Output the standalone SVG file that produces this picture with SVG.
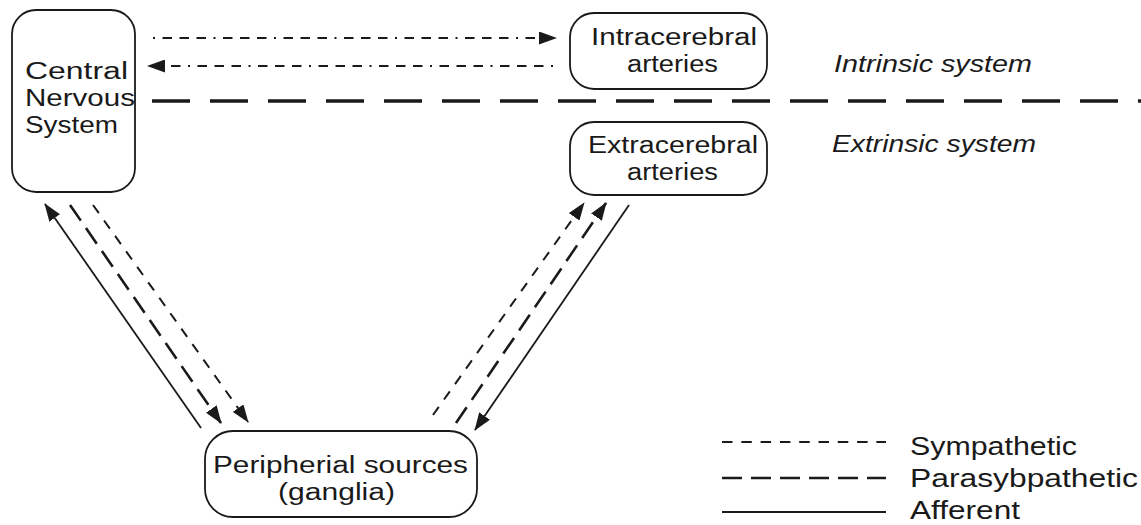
<svg xmlns="http://www.w3.org/2000/svg" width="1141" height="525" viewBox="0 0 1141 525">
<defs>
<style>
.box{fill:none;stroke:#1a1a1a;stroke-width:1.8}
.lbl{font-family:"Liberation Sans",Arial,sans-serif;font-size:23px;fill:#1a1a1a}
.leg{font-family:"Liberation Sans",Arial,sans-serif;font-size:25px;fill:#1a1a1a}
.it{font-family:"Liberation Sans",Arial,sans-serif;font-size:23px;font-style:italic;fill:#1a1a1a}
.dd{fill:none;stroke:#1a1a1a;stroke-width:2.2;stroke-dasharray:2 7.5 9.5 7.5 9.5 7.5 9.5 7.5}
.sym{fill:none;stroke:#1a1a1a;stroke-width:2;stroke-dasharray:10 9}
.par{fill:none;stroke:#1a1a1a;stroke-width:2.6;stroke-dasharray:19 9}
.aff{fill:none;stroke:#1a1a1a;stroke-width:1.8}
.div{fill:none;stroke:#1a1a1a;stroke-width:3.4;stroke-dasharray:38 20}
</style>
<marker id="ah" viewBox="0 0 18 13" refX="17" refY="6.5" markerWidth="18" markerHeight="13" markerUnits="userSpaceOnUse" orient="auto">
<path d="M0,0 L18,6.5 L0,13 z" fill="#1a1a1a"/>
</marker>
</defs>
<rect width="1141" height="525" fill="#ffffff"/>

<g id="divider">
<line class="div" x1="152" y1="101" x2="1141" y2="101"/>
</g>

<g id="cns">
<rect class="box" x="12" y="10" width="123" height="182" rx="24"/>
<text class="lbl" x="25" y="79" textLength="103" lengthAdjust="spacingAndGlyphs">Central</text>
<text class="lbl" x="25" y="106" textLength="110" lengthAdjust="spacingAndGlyphs">Nervous</text>
<text class="lbl" x="25" y="133" textLength="93" lengthAdjust="spacingAndGlyphs">System</text>
</g>

<g id="intracerebral">
<rect class="box" x="570" y="13" width="197" height="76" rx="24"/>
<text class="lbl" x="591" y="45" textLength="166" lengthAdjust="spacingAndGlyphs">Intracerebral</text>
<text class="lbl" x="627" y="72" textLength="91" lengthAdjust="spacingAndGlyphs">arteries</text>
</g>

<g id="extracerebral">
<rect class="box" x="570" y="122" width="197" height="73" rx="24"/>
<text class="lbl" x="588" y="153" textLength="170" lengthAdjust="spacingAndGlyphs">Extracerebral</text>
<text class="lbl" x="627" y="180" textLength="91" lengthAdjust="spacingAndGlyphs">arteries</text>
</g>

<g id="peripheral">
<rect class="box" x="205" y="431" width="272" height="86" rx="28"/>
<text class="lbl" x="213" y="473" textLength="255" lengthAdjust="spacingAndGlyphs">Peripherial sources</text>
<text class="lbl" x="278" y="500" textLength="117" lengthAdjust="spacingAndGlyphs">(ganglia)</text>
</g>

<g id="system-labels">
<text class="it" x="834" y="72" textLength="198" lengthAdjust="spacingAndGlyphs">Intrinsic system</text>
<text class="it" x="832" y="152" textLength="204" lengthAdjust="spacingAndGlyphs">Extrinsic system</text>
</g>

<g id="connectors">
<line class="dd" x1="153" y1="38" x2="556" y2="38" marker-end="url(#ah)"/>
<line class="dd" x1="553" y1="66" x2="148" y2="66" marker-end="url(#ah)"/>
<line class="aff" x1="201" y1="428" x2="45" y2="204" marker-end="url(#ah)"/>
<line class="par" x1="70" y1="205" x2="221" y2="423" marker-end="url(#ah)"/>
<line class="sym" x1="93" y1="205" x2="248" y2="422" marker-end="url(#ah)"/>
<line class="sym" x1="433" y1="415" x2="584" y2="203" marker-end="url(#ah)"/>
<line class="par" x1="456" y1="423" x2="606" y2="203" marker-end="url(#ah)"/>
<line class="aff" x1="629" y1="205" x2="475" y2="430" marker-end="url(#ah)"/>
</g>

<g id="legend">
<line class="sym" x1="722" y1="442" x2="886" y2="442" style="stroke-width:1.8;stroke-dasharray:10.5 8.8"/>
<line class="par" x1="722" y1="478" x2="886" y2="478" style="stroke-dasharray:20 9"/>
<line class="aff" x1="722" y1="512" x2="886" y2="512"/>
<text class="leg" x="910" y="455" textLength="167" lengthAdjust="spacingAndGlyphs">Sympathetic</text>
<text class="leg" x="910" y="487" textLength="228" lengthAdjust="spacingAndGlyphs">Parasybpathetic</text>
<text class="leg" x="910" y="519" textLength="110" lengthAdjust="spacingAndGlyphs">Afferent</text>
</g>
</svg>
